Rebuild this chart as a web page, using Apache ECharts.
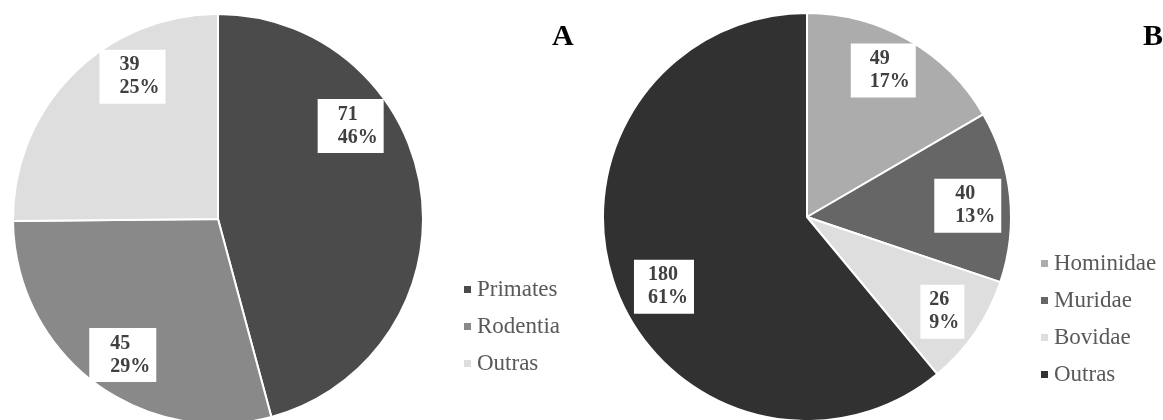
<!DOCTYPE html>
<html><head><meta charset="utf-8">
<script src="https://cdn.jsdelivr.net/npm/echarts@6/dist/echarts.min.js"></script>
<style>html,body{margin:0;padding:0;background:#fff}#c{width:1163px;height:420px}</style>
</head><body><div id="c"></div>
<script>
// ---- data ----
const catsA = ['Primates', 'Rodentia', 'Outras'];
const valsA = [71, 45, 39];
const catsB = ['Hominidae', 'Muridae', 'Bovidae', 'Outras'];
const valsB = [49, 40, 26, 180];
const titles = ['A', 'B'];

// ---- styles ----
const colorsA = ['#4b4b4b', '#898989', '#dedede'];
const colorsB = ['#acacac', '#666666', '#dedede', '#313131'];
const geomA = {cx: 218, cy: 219, r: 205};
const geomB = {cx: 807, cy: 217, r: 204};
// label placement: [angle from 12 o'clock clockwise (deg), fraction of radius]
const labelPosA = [[55, 0.79], [215, 0.81], [329, 0.81]];
const labelPosB = [[27.5, 0.81], [86, 0.79], [125, 0.81], [244, 0.78]];
const padsA = [[4, 6, 4, 20], [4, 6, 4, 21], [4, 6, 4, 20]];
const padsB = [[4, 6, 4, 19], [4, 6, 4, 21], [4, 5, 4, 9], [4, 6, 4, 14]];

const FONT = 'Liberation Serif, Times New Roman, serif';

function makeData(cats, vals, colors, pads) {
  return cats.map((n, i) => ({
    name: n, value: vals[i],
    itemStyle: {color: colors[i]},
    label: {padding: pads[i]}
  }));
}

function makeLayout(geom, pos) {
  return function (p) {
    const a = pos[p.dataIndex][0] * Math.PI / 180;
    const f = pos[p.dataIndex][1];
    const bx = geom.cx + f * geom.r * Math.sin(a);
    const by = geom.cy - f * geom.r * Math.cos(a);
    return {x: bx - p.labelRect.width / 2, y: by, align: 'left', verticalAlign: 'middle'};
  };
}

function makeSeries(name, geom, data, pos) {
  return {
    name: name, type: 'pie',
    center: [geom.cx, geom.cy], radius: geom.r,
    startAngle: 90, clockwise: true,
    percentPrecision: 0,
    avoidLabelOverlap: false,
    silent: true,
    itemStyle: {borderColor: '#ffffff', borderWidth: 2},
    label: {
      show: true, position: 'inside',
      formatter: '{c}\n{d}%',
      color: '#404040', fontFamily: FONT, fontWeight: 'bold',
      fontSize: 20, lineHeight: 23,
      backgroundColor: '#ffffff', align: 'left'
    },
    labelLine: {show: false},
    labelLayout: makeLayout(geom, pos),
    emphasis: {disabled: true},
    data: data
  };
}

const legendText = {fontFamily: FONT, fontSize: 23, color: '#595959', lineHeight: 23};

const option = {
  backgroundColor: '#ffffff',
  animation: false,
  title: [
    {text: titles[0], left: 552, top: 22, padding: 0,
     textStyle: {fontFamily: FONT, fontWeight: 'bold', fontSize: 30, lineHeight: 30, color: '#000'}},
    {text: titles[1], left: 1143, top: 22, padding: 0,
     textStyle: {fontFamily: FONT, fontWeight: 'bold', fontSize: 30, lineHeight: 30, color: '#000'}}
  ],
  legend: [
    {data: catsA, orient: 'vertical', left: 462, top: 278, padding: 0,
     itemWidth: 9, itemHeight: 9, itemGap: 14, icon: 'rect', selectedMode: false,
     textStyle: legendText},
    {data: catsB.map((n, i) => ({name: n, itemStyle: {color: colorsB[i]}})), orient: 'vertical', left: 1039, top: 252, padding: 0,
     itemWidth: 9, itemHeight: 9, itemGap: 14, icon: 'rect', selectedMode: false,
     textStyle: legendText}
  ],
  series: [
    makeSeries('A', geomA, makeData(catsA, valsA, colorsA, padsA), labelPosA),
    makeSeries('B', geomB, makeData(catsB, valsB, colorsB, padsB), labelPosB)
  ]
};

const chart = echarts.init(document.getElementById('c'), null, {renderer: 'canvas'});
chart.setOption(option);
</script>
</body></html>
